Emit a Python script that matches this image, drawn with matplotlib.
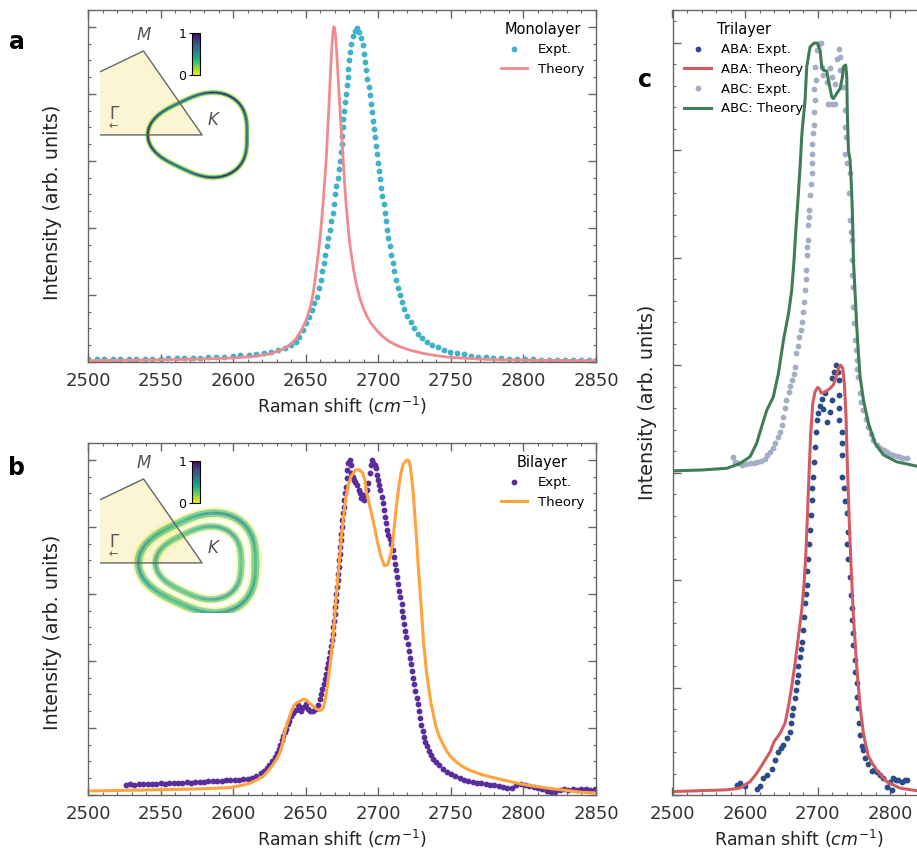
import numpy as np
import matplotlib
matplotlib.use("Agg")
import matplotlib.pyplot as plt
from matplotlib.ticker import MultipleLocator
from matplotlib.collections import LineCollection
from matplotlib.cm import ScalarMappable
from matplotlib.colors import Normalize

W, H = 917, 859

# ---- panel a: monolayer ----
mono_expt_x = [2500, 2506, 2511, 2517, 2522, 2528, 2533, 2539, 2544, 2550, 2555, 2561, 2566, 2572,
               2577, 2583, 2588, 2594, 2600, 2605, 2611, 2616, 2621, 2626, 2631, 2636, 2640, 2643,
               2645.5, 2648, 2650, 2652.5, 2654.5, 2656, 2657.7, 2659, 2660.2, 2661.3, 2662.4, 2663.5,
               2664.6, 2665.6, 2666.6, 2667.6, 2668.6, 2669.6, 2670.4, 2671.2, 2672, 2672.8, 2673.5,
               2674.2, 2674.8, 2675.2, 2675.6, 2676, 2676.5, 2677, 2677.6, 2678.2, 2678.8, 2679.3,
               2679.8, 2680.5, 2681.3, 2682.5, 2684, 2685.5, 2687, 2688.2, 2689.2, 2690.1, 2690.9,
               2691.7, 2692.5, 2693.3, 2694.1, 2694.9, 2695.6, 2696.3, 2697, 2697.7, 2698.4, 2699.1,
               2699.8, 2700.5, 2701.3, 2702.1, 2702.9, 2703.7, 2704.5, 2705.3, 2706.1, 2707, 2707.9,
               2708.8, 2709.8, 2710.8, 2712, 2713.3, 2714.7, 2716.3, 2718, 2720, 2722.2, 2724.6,
               2727.3, 2730.3, 2733.6, 2737.2, 2741, 2745, 2749.5, 2754, 2759, 2764, 2769, 2774, 2779,
               2784.5, 2790, 2795.5, 2801, 2806.5, 2812, 2817.5, 2823, 2828.5, 2834, 2839.5, 2845, 2850]
mono_expt_y = [0.008, 0.008, 0.008, 0.009, 0.008, 0.009, 0.009, 0.010, 0.010, 0.010, 0.011, 0.011,
               0.012, 0.012, 0.013, 0.014, 0.015, 0.016, 0.019, 0.020, 0.022, 0.025, 0.028, 0.031,
               0.036, 0.043, 0.050, 0.060, 0.075, 0.095, 0.115, 0.135, 0.155, 0.175, 0.195, 0.22,
               0.245, 0.27, 0.295, 0.32, 0.345, 0.37, 0.395, 0.42, 0.445, 0.47, 0.50, 0.525, 0.55,
               0.575, 0.60, 0.625, 0.65, 0.675, 0.70, 0.725, 0.75, 0.775, 0.80, 0.825, 0.85, 0.875,
               0.90, 0.925, 0.95, 0.972, 0.988, 0.995, 0.985, 0.965, 0.945, 0.92, 0.895, 0.87, 0.845,
               0.82, 0.795, 0.77, 0.745, 0.72, 0.695, 0.67, 0.645, 0.62, 0.595, 0.57, 0.545, 0.52,
               0.495, 0.47, 0.445, 0.42, 0.395, 0.37, 0.345, 0.32, 0.295, 0.27, 0.245, 0.222, 0.20,
               0.178, 0.157, 0.137, 0.118, 0.10, 0.085, 0.072, 0.061, 0.052, 0.044, 0.037, 0.031,
               0.027, 0.023, 0.019, 0.016, 0.014, 0.012, 0.011, 0.010, 0.009, 0.008, 0.008, 0.007,
               0.007, 0.007, 0.006, 0.006, 0.006, 0.006, 0.006]
mono_theo_x = [2500, 2540, 2570, 2600, 2615, 2625, 2632, 2637, 2640, 2643, 2645.7, 2648, 2650.3,
               2652, 2653.8, 2655.3, 2656.7, 2658, 2659.5, 2660.7, 2661.8, 2663, 2664.1, 2665,
               2665.9, 2666.7, 2667.5, 2668.2, 2668.8, 2669.4, 2670, 2670.6, 2671.2, 2671.8, 2672.5,
               2673.2, 2674.1, 2675.1, 2676, 2676.8, 2677.8, 2679, 2680, 2681.3, 2683, 2684.7, 2687,
               2689.3, 2692, 2695, 2699, 2703, 2708, 2714.5, 2722, 2730.5, 2740, 2749, 2765, 2780,
               2810, 2850]
mono_theo_y = [0.004, 0.006, 0.008, 0.012, 0.017, 0.024, 0.034, 0.045, 0.055, 0.068, 0.085, 0.103,
               0.125, 0.148, 0.175, 0.21, 0.255, 0.30, 0.354, 0.41, 0.464, 0.535, 0.603, 0.68,
               0.752, 0.83, 0.90, 0.95, 0.985, 1.0, 0.995, 0.97, 0.935, 0.89, 0.835, 0.782, 0.715,
               0.653, 0.59, 0.533, 0.47, 0.414, 0.365, 0.324, 0.275, 0.235, 0.195, 0.165, 0.138,
               0.115, 0.094, 0.076, 0.060, 0.046, 0.035, 0.026, 0.019, 0.014, 0.010, 0.007, 0.005,
               0.004]

# ---- panel b: bilayer ----
bi_expt_x = [2526, 2529, 2532, 2535, 2538, 2541, 2544, 2547, 2550, 2553, 2556, 2559, 2562, 2565,
             2568, 2571, 2574, 2577, 2580, 2583, 2586, 2589, 2592, 2595, 2598, 2601, 2604, 2607,
             2610, 2613, 2616, 2619, 2621, 2623, 2625, 2627, 2628.5, 2630, 2631.5, 2632.5, 2633.5,
             2634.5, 2635.5, 2636.5, 2637.5, 2638.5, 2640, 2641.5, 2643, 2644.5, 2646, 2647, 2648.5,
             2650, 2651.5, 2653, 2655, 2657, 2658.5, 2659.5, 2660.5, 2661.5, 2662.5, 2663.3, 2664,
             2664.8, 2665.5, 2666.2, 2666.8, 2667.4, 2668, 2668.5, 2669, 2669.5, 2670, 2670.4,
             2670.8, 2671.2, 2671.6, 2672, 2672.4, 2672.7, 2673, 2673.3, 2673.7, 2674, 2674.4,
             2674.8, 2675.2, 2675.7, 2676.1, 2676.5, 2677, 2677.6, 2678.3, 2678.7, 2679.4, 2680.3,
             2681, 2681.5, 2682.3, 2683.2, 2684.3, 2685.5, 2686.5, 2687.5, 2688.3, 2689.3, 2690.3,
             2691.3, 2692.3, 2693.2, 2694, 2694.7, 2695.6, 2696.5, 2697.5, 2698.3, 2699, 2699.8,
             2700.6, 2701.5, 2702.3, 2703, 2703.8, 2704.5, 2705.3, 2706, 2707, 2708, 2709, 2709.8,
             2710.6, 2711.4, 2712.2, 2713, 2713.8, 2714.6, 2715.3, 2716, 2716.6, 2717.3, 2718,
             2718.7, 2719.4, 2720.2, 2721, 2721.8, 2722.5, 2723.2, 2724, 2724.8, 2725.6, 2726.4,
             2727.2, 2728, 2728.8, 2729.6, 2730.5, 2731.5, 2732.5, 2733.5, 2735, 2736.5, 2738, 2740,
             2742, 2744.5, 2747, 2750, 2753, 2756, 2759, 2762, 2765, 2768, 2771, 2774, 2777, 2780,
             2783, 2786, 2789, 2792, 2795, 2798, 2801, 2804, 2807, 2810, 2813, 2816, 2819, 2822,
             2825, 2828, 2831, 2834, 2837, 2840, 2843, 2846, 2849]
bi_expt_y = [0.030, 0.032, 0.031, 0.033, 0.032, 0.034, 0.033, 0.034, 0.035, 0.034, 0.036, 0.035,
             0.037, 0.036, 0.038, 0.037, 0.039, 0.040, 0.039, 0.041, 0.042, 0.041, 0.043, 0.044,
             0.045, 0.044, 0.046, 0.047, 0.049, 0.052, 0.058, 0.065, 0.072, 0.080, 0.090, 0.102,
             0.112, 0.125, 0.138, 0.150, 0.163, 0.176, 0.188, 0.198, 0.212, 0.222, 0.236, 0.246,
             0.255, 0.268, 0.262, 0.250, 0.262, 0.270, 0.258, 0.250, 0.252, 0.256, 0.268, 0.285,
             0.300, 0.315, 0.33, 0.345, 0.36, 0.378, 0.395, 0.41, 0.428, 0.445, 0.462, 0.48, 0.50,
             0.52, 0.54, 0.56, 0.58, 0.60, 0.62, 0.64, 0.66, 0.68, 0.70, 0.72, 0.74, 0.76, 0.78,
             0.80, 0.82, 0.84, 0.86, 0.88, 0.90, 0.92, 0.945, 0.97, 0.99, 1.0, 0.985, 0.96, 0.95,
             0.94, 0.935, 0.925, 0.91, 0.90, 0.885, 0.895, 0.88, 0.89, 0.91, 0.93, 0.96, 0.985,
             1.0, 0.99, 0.985, 0.975, 0.955, 0.94, 0.925, 0.91, 0.89, 0.87, 0.85, 0.83, 0.81,
             0.79, 0.775, 0.765, 0.75, 0.73, 0.71, 0.69, 0.67, 0.65, 0.63, 0.61, 0.59, 0.57, 0.55,
             0.53, 0.51, 0.49, 0.47, 0.45, 0.43, 0.41, 0.39, 0.37, 0.35, 0.33, 0.31, 0.29, 0.27,
             0.25, 0.23, 0.21, 0.19, 0.172, 0.158, 0.145, 0.132, 0.12, 0.108, 0.098, 0.088, 0.078,
             0.07, 0.062, 0.056, 0.051, 0.046, 0.042, 0.040, 0.037, 0.035, 0.033, 0.031, 0.029,
             0.027, 0.024, 0.022, 0.020, 0.030, 0.034, 0.030, 0.028, 0.025, 0.022, 0.018, 0.012,
             0.010, 0.008, 0.015, 0.018, 0.016, 0.017, 0.016, 0.018, 0.017, 0.016, 0.017]
bi_theo_x = [2500, 2540, 2575, 2597.6, 2605, 2611.4, 2616, 2620.5, 2624, 2627.4, 2630, 2632, 2634,
             2635.4, 2637, 2638.9, 2640.5, 2642.3, 2644, 2645.7, 2648, 2650.3, 2652.5, 2654.9, 2657,
             2659.5, 2661, 2662.2, 2663.7, 2665.2, 2667, 2668.7, 2670, 2671.4, 2673, 2674.4, 2676,
             2677.8, 2679.5, 2681.3, 2684.2, 2687, 2689.3, 2690.7, 2692, 2695, 2697.3, 2699.6,
             2701.9, 2704.2, 2706.5, 2708.8, 2710, 2711, 2712.2, 2713.3, 2714.5, 2715.6, 2717,
             2718.6, 2720.2, 2721.2, 2722, 2723, 2724.1, 2725.2, 2726.4, 2727.5, 2728.7, 2730, 2731,
             2733.3, 2736.3, 2739.7, 2742, 2744.3, 2747, 2750, 2754, 2758, 2764, 2771.8, 2785.5,
             2801.6, 2817.6, 2840.5, 2850]
bi_theo_y = [0.012, 0.015, 0.018, 0.022, 0.028, 0.035, 0.044, 0.055, 0.071, 0.09, 0.107, 0.124,
             0.152, 0.184, 0.21, 0.234, 0.254, 0.269, 0.276, 0.279, 0.285, 0.284, 0.274, 0.266,
             0.258, 0.252, 0.254, 0.262, 0.29, 0.333, 0.395, 0.463, 0.535, 0.612, 0.69, 0.761,
             0.83, 0.891, 0.928, 0.95, 0.97, 0.97, 0.96, 0.94, 0.90, 0.846, 0.801, 0.751, 0.711,
             0.684, 0.687, 0.721, 0.755, 0.801, 0.85, 0.891, 0.93, 0.96, 0.985, 0.995, 1.0, 0.995,
             0.98, 0.945, 0.90, 0.835, 0.761, 0.685, 0.612, 0.535, 0.463, 0.363, 0.274, 0.204,
             0.175, 0.154, 0.132, 0.114, 0.098, 0.085, 0.072, 0.06, 0.045, 0.03, 0.02, 0.008,
             0.006]

# ---- panel c: trilayer (ABC offset by 0.75) ----
aba_expt_x = [2588.5, 2593, 2600, 2616, 2620.7, 2625.3, 2630, 2636.8, 2641.4, 2646, 2650, 2653,
              2657.5, 2662, 2663, 2665, 2666.7, 2669, 2670.2, 2671.4, 2672.5, 2673.6, 2675.9, 2677,
              2678.2, 2679.6, 2681.4, 2682.8, 2684, 2685.1, 2686, 2687.4, 2688.7, 2689.7, 2690.6,
              2692, 2692.9, 2693.4, 2695.2, 2696.6, 2698, 2698.9, 2701.2, 2703.5, 2705.8, 2710.4,
              2708.1, 2712.7, 2717.3, 2719.6, 2720.5, 2722.5, 2725.6, 2728, 2729.7, 2729.7, 2729.7,
              2729.7, 2733.4, 2733.4, 2733.8, 2734.3, 2736.6, 2738.5, 2741.2, 2742.6, 2741.2, 2742.6,
              2744.9, 2745.8, 2747.2, 2747.2, 2748.6, 2749.5, 2751.8, 2751.8, 2754.1, 2755, 2756.4,
              2757.7, 2758.7, 2760.9, 2763.3, 2765.6, 2770.2, 2774.8, 2778, 2781.7, 2786.3, 2790,
              2795.4, 2800, 2802.3, 2804.6, 2808, 2811.5, 2816.1, 2820.7, 2823]
aba_expt_y = [0.024, 0.027, 0.021, 0.013, 0.02, 0.039, 0.047, 0.060, 0.081, 0.100, 0.110, 0.116,
              0.132, 0.147, 0.167, 0.185, 0.202, 0.225, 0.245, 0.263, 0.28, 0.299, 0.322, 0.34,
              0.357, 0.384, 0.415, 0.446, 0.468, 0.488, 0.52, 0.55, 0.585, 0.616, 0.651, 0.686,
              0.713, 0.74, 0.775, 0.81, 0.845, 0.872, 0.888, 0.905, 0.922, 0.934, 0.899, 0.868,
              0.891, 0.918, 0.969, 0.985, 1.0, 0.985, 0.965, 0.93, 0.90, 0.872, 0.845, 0.818, 0.79,
              0.74, 0.713, 0.685, 0.655, 0.612, 0.585, 0.55, 0.508, 0.465, 0.434, 0.407, 0.376,
              0.349, 0.314, 0.287, 0.26, 0.229, 0.202, 0.167, 0.14, 0.115, 0.105, 0.085, 0.072,
              0.055, 0.058, 0.054, 0.047, 0.040, 0.019, 0.031, 0.012, 0.039, 0.036, 0.035, 0.031,
              0.036, 0.035]
aba_theo_x = [2500, 2575, 2593, 2607, 2616, 2625, 2634.5, 2640, 2648.3, 2655.2, 2659.8, 2664.4, 2669,
              2673.6, 2678.2, 2681.4, 2683.7, 2686, 2688.3, 2690.6, 2693.4, 2696.6, 2700, 2702.6,
              2705, 2708.1, 2712.7, 2717.3, 2721.9, 2725.6, 2728.8, 2732, 2734.8, 2737, 2739.3,
              2741.2, 2743.5, 2746.3, 2749.5, 2754.1, 2758.7, 2763.3, 2766, 2770.2, 2775, 2781.7,
              2795.4, 2813.8, 2836.8, 2850]
aba_theo_y = [0.008, 0.012, 0.016, 0.031, 0.05, 0.074, 0.100, 0.124, 0.143, 0.167, 0.205, 0.252,
              0.306, 0.368, 0.43, 0.492, 0.554, 0.647, 0.748, 0.841, 0.911, 0.938, 0.948, 0.945,
              0.935, 0.936, 0.94, 0.946, 0.954, 0.973, 0.992, 1.0, 0.992, 0.957, 0.88, 0.764,
              0.647, 0.531, 0.415, 0.298, 0.205, 0.143, 0.12, 0.09, 0.075, 0.058, 0.031, 0.016,
              0.01, 0.009]
abc_expt_x = [2584, 2586, 2590, 2596, 2602, 2607, 2612, 2617, 2622, 2627, 2631, 2635, 2639, 2642,
              2645, 2648, 2651, 2653, 2655, 2657, 2660, 2662, 2664.4, 2667, 2669, 2670.4, 2672.5,
              2675, 2677, 2678.5, 2680.5, 2681.4, 2682.8, 2683.5, 2684.2, 2685.1, 2686, 2686.5,
              2687.4, 2688, 2688.7, 2689.7, 2690.6, 2692, 2692.9, 2692, 2692.9, 2693.4, 2695.2,
              2695.2, 2696.6, 2695.2, 2698, 2696.6, 2698.9, 2702.6, 2704.4, 2705.8, 2708.1, 2712.7,
              2715, 2719.6, 2724.2, 2724.2, 2719.6, 2717.3, 2726.5, 2729.7, 2731.1, 2731, 2735.7,
              2738, 2738, 2739.3, 2738, 2741, 2744.9, 2744, 2744.9, 2745.5, 2747.2, 2747.2, 2748,
              2748.6, 2749.5, 2750.9, 2751.8, 2753, 2754.1, 2755, 2756.4, 2758.7, 2760.5, 2763.3,
              2766.5, 2770.2, 2773.5, 2777.1, 2781.5, 2786.3, 2791, 2795.4, 2800, 2804.6, 2809,
              2813.8, 2818.5, 2823]
abc_expt_y = [0.787, 0.775, 0.772, 0.768, 0.771, 0.772, 0.773, 0.774, 0.776, 0.782, 0.79, 0.797,
              0.808, 0.818, 0.832, 0.845, 0.86, 0.88, 0.9, 0.918, 0.938, 0.952, 0.965, 0.98, 0.995,
              1.027, 1.045, 1.066, 1.082, 1.10, 1.124, 1.147, 1.174, 1.20, 1.221, 1.256, 1.275,
              1.291, 1.326, 1.345, 1.36, 1.395, 1.422, 1.446, 1.469, 1.492, 1.515, 1.539, 1.558,
              1.589, 1.616, 1.643, 1.663, 1.694, 1.732, 1.748, 1.75, 1.694, 1.674, 1.659, 1.608,
              1.608, 1.608, 1.655, 1.67, 1.69, 1.713, 1.736, 1.717, 1.686, 1.647, 1.593, 1.554,
              1.531, 1.492, 1.47, 1.446, 1.40, 1.337, 1.31, 1.291, 1.244, 1.21, 1.182, 1.136, 1.097,
              1.058, 1.035, 1.012, 0.99, 0.973, 0.934, 0.915, 0.895, 0.875, 0.857, 0.84, 0.826,
              0.815, 0.806, 0.802, 0.798, 0.794, 0.791, 0.789, 0.787, 0.785, 0.783]
abc_theo_x = [2500, 2540, 2575, 2593, 2607, 2616, 2623, 2630, 2639, 2646, 2653, 2660, 2664.4, 2667.6,
              2670.4, 2673.6, 2676.5, 2678.5, 2682.8, 2685.1, 2689.7, 2695.2, 2699.8, 2703.5,
              2705.8, 2708.1, 2712.7, 2715, 2719.6, 2721.9, 2726.5, 2731.1, 2734.3, 2735.7, 2738.9,
              2740.3, 2741.2, 2742.6, 2744.9, 2747.2, 2748.6, 2749.5, 2751.8, 2754.1, 2756.4,
              2758.7, 2763.3, 2770.2, 2779.4, 2790.9, 2809.3, 2836.8, 2850]
abc_theo_y = [0.754, 0.756, 0.76, 0.771, 0.787, 0.818, 0.857, 0.895, 0.926, 0.98, 1.058, 1.12,
              1.174, 1.244, 1.322, 1.399, 1.477, 1.54, 1.616, 1.694, 1.74, 1.749, 1.749, 1.732,
              1.694, 1.686, 1.684, 1.663, 1.624, 1.62, 1.632, 1.643, 1.67, 1.694, 1.698, 1.67,
              1.578, 1.50, 1.477, 1.399, 1.322, 1.244, 1.167, 1.089, 1.027, 0.973, 0.919, 0.864,
              0.818, 0.791, 0.775, 0.765, 0.763]

plt.rcParams['font.family'] = ['DejaVu Sans']
plt.rcParams['mathtext.fontset'] = 'dejavusans'

fig = plt.figure(figsize=(W / 100, H / 100), dpi=100)


def px_axes(x0, y0, x1, y1):
    # figure pixel box -> axes
    return fig.add_axes([x0 / W, 1 - y1 / H, (x1 - x0) / W, (y1 - y0) / H])


def style(ax, xmaj, xmin, ymaj, ymin, ytop, lab_xy):
    ax.set_xlim(2500, 2850)
    ax.set_ylim(0, ytop)
    ax.xaxis.set_major_locator(MultipleLocator(xmaj))
    ax.xaxis.set_minor_locator(MultipleLocator(xmin))
    ax.yaxis.set_major_locator(MultipleLocator(ymaj))
    ax.yaxis.set_minor_locator(MultipleLocator(ymin))
    ax.tick_params(which='both', direction='in', top=True, right=True, color='#666666',
                   labelleft=False)
    ax.tick_params(which='major', length=5.5, width=1.0)
    ax.tick_params(which='minor', length=2.5, width=0.8)
    ax.tick_params(axis='x', labelsize=13, pad=7, labelcolor='#333333')
    for s in ax.spines.values():
        s.set_color('#666666')
        s.set_linewidth(1.0)
    ax.set_xlabel('Raman shift ($cm^{-1}$)', fontsize=12.5, color='#222222')
    ax.set_ylabel('Intensity (arb. units)', fontsize=13.8, color='#222222')
    ax.yaxis.set_label_coords(*lab_xy)


def bz_inset(y_off, rings):
    # Brillouin-zone wedge with Fermi contour(s) around K
    ax = px_axes(100, 30 + y_off, 262, 185 + y_off)
    ax.set_xlim(0.564, 1.256)
    ax.set_ylim(-0.258, 0.541)
    ax.axis('off')
    g = np.tan(np.pi / 6) * 0.564
    ax.fill([0.564, 0.75, 1.0, 0.564], [g, 0.433, 0.0, 0.0], color='#fcf5d3', lw=0, zorder=1)
    cmap = plt.get_cmap('viridis_r')
    t = np.linspace(0, 2 * np.pi, 361)
    for r0, amp, lw, core, alpha in rings:
        r = r0 - amp * np.cos(3 * t)
        x = 1.0 + r * np.cos(t)
        y = r * np.sin(t)
        ax.plot(x, y, color=cmap(0.02), lw=lw * 1.9, alpha=0.45 * alpha, zorder=2)
        ax.plot(x, y, color=cmap(0.35), lw=lw * 1.2, alpha=0.85 * alpha, zorder=3)
        pts = np.column_stack([x, y]).reshape(-1, 1, 2)
        segs = np.concatenate([pts[:-1], pts[1:]], axis=1)
        v = core - 0.12 * np.cos(3 * t[:-1])
        lc = LineCollection(segs, colors=cmap(v), linewidths=lw * 0.45, alpha=alpha, zorder=4)
        ax.add_collection(lc)
    ax.plot([0.564, 0.75, 1.0, 0.564], [g, 0.433, 0.0, 0.0], color='#666666', lw=1.0, zorder=5)
    ax.text(0.75, 0.47, '$M$', fontsize=12, color='#555555', ha='center', va='bottom')
    ax.text(1.02, 0.03, '$K$', fontsize=12, color='#555555', ha='left', va='bottom')
    ax.text(0.625, 0.11, '$\\Gamma$', fontsize=12, color='#555555', ha='center', va='center')
    ax.text(0.62, 0.045, '\u2190', fontsize=8, color='#555555', ha='center', va='center')
    cax = px_axes(192, 33 + y_off, 200, 75 + y_off)
    cb = fig.colorbar(ScalarMappable(norm=Normalize(0, 1), cmap='viridis_r'), cax=cax,
                      ticks=[0, 1])
    cax.yaxis.set_ticks_position('left')
    cax.tick_params(labelsize=9, length=2.5, width=0.8, pad=1.5)
    cb.outline.set_linewidth(0.8)
    return ax


# ---- panel a ----
ax_a = px_axes(88, 10, 596, 362)
ax_a.plot(mono_expt_x, mono_expt_y, 'o', ms=4.2, mew=0, color='#3fb1c9', label='Expt.')
ax_a.plot(mono_theo_x, mono_theo_y, '-', lw=2.0, color='#ef8a8e', label='Theory')
style(ax_a, 50, 10, 0.2, 0.05, 1.05, (-0.051, 0.455))
ax_a.legend(loc='upper right', frameon=False, title='Monolayer', fontsize=9.5,
            title_fontsize=10.5, numpoints=1)

# ---- panel b ----
ax_b = px_axes(88, 443, 596, 795)
ax_b.plot(bi_expt_x, bi_expt_y, 'o', ms=4.2, mew=0, color='#5a2d9c', label='Expt.')
ax_b.plot(bi_theo_x, bi_theo_y, '-', lw=2.2, color='#ffa43c', label='Theory')
style(ax_b, 50, 10, 0.2, 0.05, 1.05, (-0.051, 0.463))
ax_b.legend(loc='upper right', frameon=False, title='Bilayer', fontsize=9.5,
            title_fontsize=10.5, numpoints=1)

# ---- panel c (runs past right edge like the original) ----
ax_c = px_axes(672.5, 10, 926.3, 795)
ax_c.plot(aba_expt_x, aba_expt_y, 'o', ms=4.2, mew=0, color='#2c4b8a', label='ABA: Expt.')
ax_c.plot(aba_theo_x, aba_theo_y, '-', lw=2.2, color='#d35a60', label='ABA: Theory')
ax_c.plot(abc_expt_x, abc_expt_y, 'o', ms=4.2, mew=0, color='#a3aec5', label='ABC: Expt.')
ax_c.plot(abc_theo_x, abc_theo_y, '-', lw=2.2, color='#3f7d57', label='ABC: Theory')
style(ax_c, 100, 20, 0.25, 0.05, 1.826, (-0.061, 0.5))
ax_c.legend(loc='upper left', frameon=False, title='Trilayer', fontsize=9.5,
            title_fontsize=10.5, numpoints=1)

bz_inset(0, [(0.212, 0.02, 2.4, 0.88, 1.0)])
bz_inset(428, [(0.25, 0.022, 4.6, 0.45, 0.65), (0.183, 0.016, 3.8, 0.4, 0.6)])

for lbl, x, y in [('a', 17, 42), ('b', 17, 468), ('c', 645, 80)]:
    fig.text(x / W, 1 - y / H, lbl, fontsize=17, fontweight='bold', ha='center', va='center')

fig.savefig('out.png', dpi=100)
